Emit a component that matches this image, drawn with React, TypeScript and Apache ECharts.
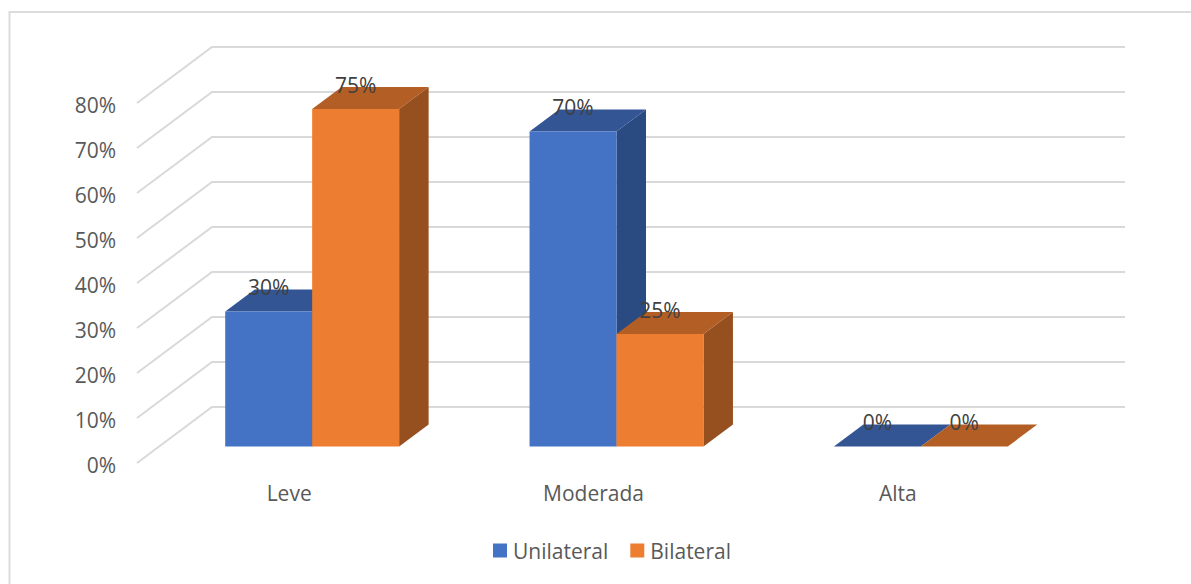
import React, { useEffect, useRef } from "react";
import * as echarts from "echarts";

const categories = ["Leve", "Moderada", "Alta"];
const unilateral = [30, 70, 0];
const bilateral = [75, 25, 0];
const ticks = [0, 10, 20, 30, 40, 50, 60, 70, 80];

const FONT = "'Open Sans', sans-serif";
const WALL = { dx: 75, dy: -56 };
const BAR_FRONT = { dx: 23, dy: -16.5 };
const BAR_DEPTH = { dx: 29.5, dy: -22 };

function barSeries(name: string, values: number[], slot: number, front: string, top: string, side: string) {
  return {
    type: "custom",
    name,
    z: 3 + slot,
    itemStyle: { color: front },
    data: values.map((v, i) => [i, v]),
    encode: { x: 0, y: 1 },
    renderItem: (_p: any, api: any) => {
      const cat = api.value(0);
      const val = api.value(1);
      const band = api.size([1, 0])[0];
      const w = band / 3.5;
      const [cx, yTop0] = api.coord([cat, val]);
      const [, yBase0] = api.coord([cat, 0]);
      const x0 = cx + BAR_FRONT.dx + (slot - 1) * w;
      const x1 = x0 + w;
      const yT = yTop0 + BAR_FRONT.dy;
      const yB = yBase0 + BAR_FRONT.dy;
      const dx = BAR_DEPTH.dx;
      const dy = BAR_DEPTH.dy;
      const children: any[] = [
        {
          type: "polygon",
          shape: { points: [[x1, yT], [x1 + dx, yT + dy], [x1 + dx, yB + dy], [x1, yB]] },
          style: { fill: side },
        },
        {
          type: "polygon",
          shape: { points: [[x0, yT], [x0 + dx, yT + dy], [x1 + dx, yT + dy], [x1, yT]] },
          style: { fill: top },
        },
        { type: "rect", shape: { x: x0, y: yT, width: w, height: yB - yT }, style: { fill: front } },
        {
          type: "text",
          z2: 10,
          style: {
            x: (x0 + x1) / 2,
            y: yT - 24.5,
            text: `${val}%`,
            fill: "#404040",
            font: `21px ${FONT}`,
            align: "center",
            verticalAlign: "middle",
          },
        },
      ];
      return { type: "group", children };
    },
  };
}

export default function App() {
  const ref = useRef<HTMLDivElement>(null);
  useEffect(() => {
    const chart = echarts.init(ref.current!, undefined, { renderer: "svg" });
    chart.setOption({
      animation: false,
      backgroundColor: "#ffffff",
      textStyle: { fontFamily: FONT },
      grid: { left: 137, top: 103, width: 913, height: 360 },
      graphic: [
        {
          type: "polyline",
          silent: true,
          shape: { points: [[9.5, 584], [9.5, 12], [1191, 12]] },
          style: { fill: "none", stroke: "#dcdcdc", lineWidth: 2 },
        },
      ],
      legend: {
        data: ["Unilateral", "Bilateral"],
        left: 488,
        top: 535,
        icon: "rect",
        itemWidth: 14,
        itemHeight: 14,
        itemGap: 22,
        textStyle: { color: "#595959", fontSize: 21, fontFamily: FONT, padding: [0, 0, 0, 1] },
      },
      xAxis: {
        type: "category",
        data: categories,
        axisLine: { show: false },
        axisTick: { show: false },
        splitLine: { show: false },
        axisLabel: { color: "#595959", fontSize: 21, margin: 19, fontFamily: FONT },
      },
      yAxis: {
        type: "value",
        min: 0,
        max: 80,
        interval: 10,
        axisLine: { show: false },
        axisTick: { show: false },
        splitLine: { show: false },
        axisLabel: {
          color: "#595959",
          fontSize: 21,
          margin: 21,
          fontFamily: FONT,
          verticalAlign: "top",
          lineHeight: 3,
          formatter: "{value}%",
        },
      },
      series: [
        {
          type: "custom",
          name: "grid",
          silent: true,
          z: 1,
          data: ticks.map((t) => [0, t]),
          encode: { x: 0, y: 1 },
          renderItem: (_p: any, api: any) => {
            const t = api.value(1);
            const [xL, y] = api.coord([0, t]);
            const band = api.size([1, 0])[0];
            const left = xL - band / 2;
            const right = left + band * categories.length + WALL.dx;
            return {
              type: "polyline",
              shape: { points: [[left, y], [left + WALL.dx, y + WALL.dy], [right, y + WALL.dy]] },
              style: { fill: "none", stroke: "#d9d9d9", lineWidth: 2 },
            };
          },
        },
        barSeries("Unilateral", unilateral, 0, "#4472C4", "#335593", "#2A4A82"),
        barSeries("Bilateral", bilateral, 1, "#ED7D31", "#B35E25", "#964F1F"),
      ],
    });
    return () => chart.dispose();
  }, []);
  return <div ref={ref} style={{ position: "fixed", left: 0, top: 0, width: 1191, height: 584 }} />;
}
